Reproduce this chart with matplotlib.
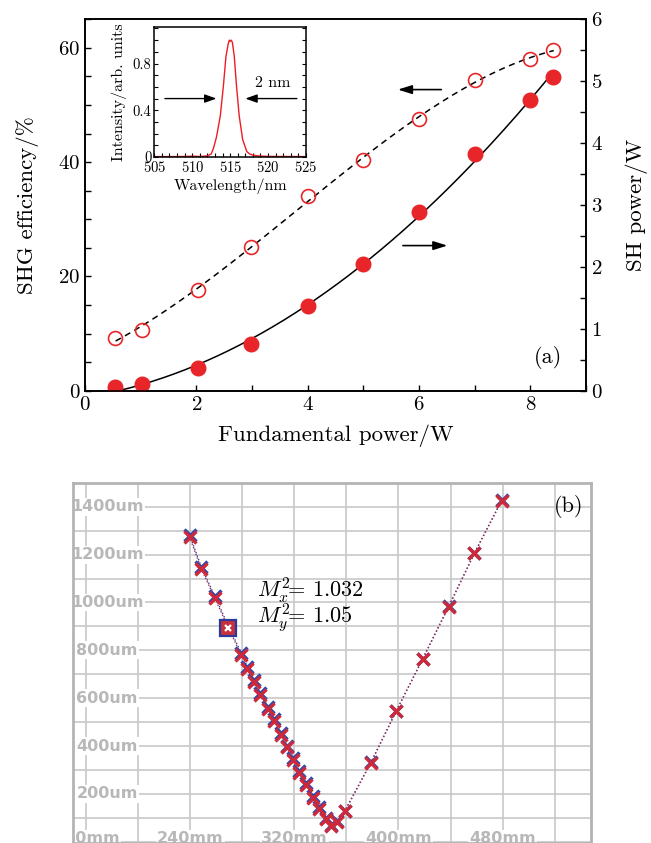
import numpy as np
import matplotlib.pyplot as plt
from matplotlib.ticker import MultipleLocator

plt.rcParams['font.family'] = 'serif'
plt.rcParams['font.serif'] = ['cmr10']
plt.rcParams['mathtext.fontset'] = 'cm'
plt.rcParams['axes.formatter.use_mathtext'] = True

# (a) SHG efficiency and SH power vs fundamental power
p_fund = [0.54, 1.02, 2.03, 2.99, 4.0, 5.0, 6.0, 7.0, 8.0, 8.41]
eff = [9.2, 10.7, 17.7, 25.2, 34.1, 40.3, 47.6, 54.3, 58.0, 59.7]
p_sh = [0.054, 0.11, 0.36, 0.76, 1.37, 2.04, 2.89, 3.83, 4.69, 5.06]

# inset: SH spectrum
wl = [505, 507, 509, 510, 511, 512, 512.5, 512.8, 513.2, 513.7, 514.1, 514.45,
      514.75, 514.9, 515.0, 515.15, 515.3, 515.55, 515.85, 516.2, 516.65, 517.2,
      517.6, 518.05, 518.9, 520, 522, 525]
inten = [0.003, 0.003, 0.004, 0.007, 0.004, 0.01, 0.025, 0.074, 0.17, 0.35, 0.6,
         0.86, 0.97, 1.0, 0.99, 1.0, 0.98, 0.86, 0.6, 0.35, 0.15, 0.046, 0.025,
         0.015, 0.008, 0.005, 0.004, 0.003]

# (b) beam diameter along z
z_mm = [239.4, 248.4, 258.9, 269.1, 279.3, 283.8, 288.6, 293.7, 299.7, 304.5,
        309.3, 314.1, 318.6, 323.7, 328.8, 334.2, 339.0, 344.1, 348.3, 353.1,
        358.8, 378.9, 398.4, 418.5, 438.6, 458.4, 479.4]
d_x = [1283, 1148, 1025, 903, 787, 730, 674, 620, 564, 512, 456, 402, 350, 297,
       245, 192, 144, 100, 70, 86, 130, 333, 548, 764, 984, 1207, 1428]
d_y = [1275, 1140, 1017, 895, 779, 722, 666, 612, 556, 505, 448, 395, 342, 289,
       238, 185, 137, 94, 66, 84, 128, 331, 547, 762, 982, 1205, 1425]
x_ticks_b = [160, 240, 320, 400, 480]
y_ticks_b = [200, 400, 600, 800, 1000, 1200, 1400]

red = '#e8262a'

fig = plt.figure(figsize=(6.51, 8.43), dpi=100)

# ---------- top panel ----------
ax = fig.add_axes([0.1306, 0.5365, 0.7696, 0.4406])
ax2 = ax.twinx()

xf = np.linspace(0.55, 8.42, 200)
ax.plot(xf, np.polyval(np.polyfit(p_fund, eff, 3), xf), color='k', lw=1.1,
        ls=(0, (4, 3)))
ax.plot(p_fund, eff, 'o', ms=10, mfc='none', mec=red, mew=1.2)

xs = np.linspace(0.62, 8.42, 200)
ys = np.clip(np.polyval(np.polyfit(p_fund, p_sh, 2), xs), 0, None)
ax2.plot(xs, ys, color='k', lw=1.1)
ax2.plot(p_fund, p_sh, 'o', ms=10.5, color=red)

ax.set_xlim(0, 9)
ax.set_ylim(0, 65)
ax2.set_ylim(0, 6)
ax.xaxis.set_major_locator(MultipleLocator(2))
ax.xaxis.set_minor_locator(MultipleLocator(1))
ax.yaxis.set_major_locator(MultipleLocator(20))
ax.yaxis.set_minor_locator(MultipleLocator(5))
ax2.yaxis.set_major_locator(MultipleLocator(1))
ax2.yaxis.set_minor_locator(MultipleLocator(0.5))
for a in (ax, ax2):
    a.tick_params(which='both', direction='in', length=4, width=1, labelsize=15)
    for s in a.spines.values():
        s.set_linewidth(1.2)
ax.tick_params(axis='x', top=False)
ax.set_xlabel('Fundamental power/W', fontsize=16.5, labelpad=8)
ax.set_ylabel('SHG efficiency/%', fontsize=16.5, labelpad=14)
ax2.set_ylabel('SH power/W', fontsize=16.5, labelpad=16)

arrow = dict(arrowstyle='-|>,head_length=0.7,head_width=0.22', color='k',
             lw=1.2, mutation_scale=12, shrinkA=0, shrinkB=0)
ax.annotate('', xy=(5.62, 52.7), xytext=(6.4, 52.7), arrowprops=arrow)
ax.annotate('', xy=(6.51, 25.4), xytext=(5.71, 25.4), arrowprops=arrow)
ax.text(8.31, 5.8, '(a)', fontsize=16, ha='center', va='center')

# inset
ins = fig.add_axes([0.237, 0.8138, 0.233, 0.1538])
ins.plot(wl, inten, color='#ee1c24', lw=1)
ins.set_xlim(505, 525)
ins.set_ylim(0, 1.11)
ins.xaxis.set_major_locator(MultipleLocator(5))
ins.xaxis.set_minor_locator(MultipleLocator(1))
ins.yaxis.set_minor_locator(MultipleLocator(0.1))
ins.set_yticks([0, 0.4, 0.8])
ins.set_yticklabels(['0', '0.4', '0.8'])
ins.tick_params(which='both', direction='in', length=3, width=0.8,
                labelsize=10.5, right=True, pad=2)
for s in ins.spines.values():
    s.set_linewidth(1.1)
ins.set_xlabel('Wavelength/nm', fontsize=11.5, labelpad=3)
ins.set_ylabel('Intensity/arb. units', fontsize=11.5, labelpad=4)
arr_in = dict(arrowstyle='-|>,head_length=0.7,head_width=0.25', color='k',
              lw=1, mutation_scale=10, shrinkA=0, shrinkB=0)
ins.annotate('', xy=(513.2, 0.5), xytext=(506.4, 0.5), arrowprops=arr_in)
ins.annotate('', xy=(517.0, 0.5), xytext=(523.8, 0.5), arrowprops=arr_in)
ins.text(520.6, 0.63, '2 nm', fontsize=11.5, ha='center', va='center')

# ---------- bottom panel ----------
bx = fig.add_axes([0.1126, 0.0, 0.7952, 0.4267])
bx.set_xlim(150, 548)
bx.set_ylim(-5, 1498)
bx.set_xticks([])
bx.set_yticks([])
grid_c = '#c8c8c8'
for gx in range(160, 560, 40):
    bx.axvline(gx, color=grid_c, lw=1.2, zorder=0)
for gy in range(0, 1500, 100):
    bx.axhline(gy, color=grid_c, lw=1.2, zorder=0)
for s in bx.spines.values():
    s.set_color('#b4b4b4')
    s.set_linewidth(2)

lab = dict(color='#b8b8b8', fontsize=11.5, fontweight='bold',
           family='DejaVu Sans', ha='center', va='center', clip_on=True,
           zorder=1, bbox=dict(fc='white', ec='none', pad=1))
for v in y_ticks_b:
    bx.text(176, v, f'{v}um', **lab)
for v in x_ticks_b:
    bx.text(v, 12, f'{v}mm', **lab)

bx.plot(z_mm, d_x, ls=':', lw=1, color='#3040a0', marker='x', ms=8, mew=2.4,
        mec='#2b48b0', zorder=3)
bx.plot(z_mm, d_y, ls=':', lw=1, color='#a03050', marker='x', ms=8, mew=2.4,
        mec='#cc2a3a', zorder=4)
bx.plot(z_mm[3], d_y[3], 's', ms=11, mfc='#c8303c', mec='#2a3a9a', mew=1.6,
        zorder=5)
bx.plot(z_mm[3], d_y[3], 'x', ms=5, mew=1.6, color='white', zorder=6)

bx.text(291.3, 1050, r'$M_x^2\!\!=\,1.032$', fontsize=16, ha='left', va='center')
bx.text(291.3, 935, r'$M_y^2\!\!=\,1.05$', fontsize=16, ha='left', va='center')
bx.text(531, 1400, '(b)', fontsize=16, ha='center', va='center')

fig.savefig('out.png', dpi=100)
